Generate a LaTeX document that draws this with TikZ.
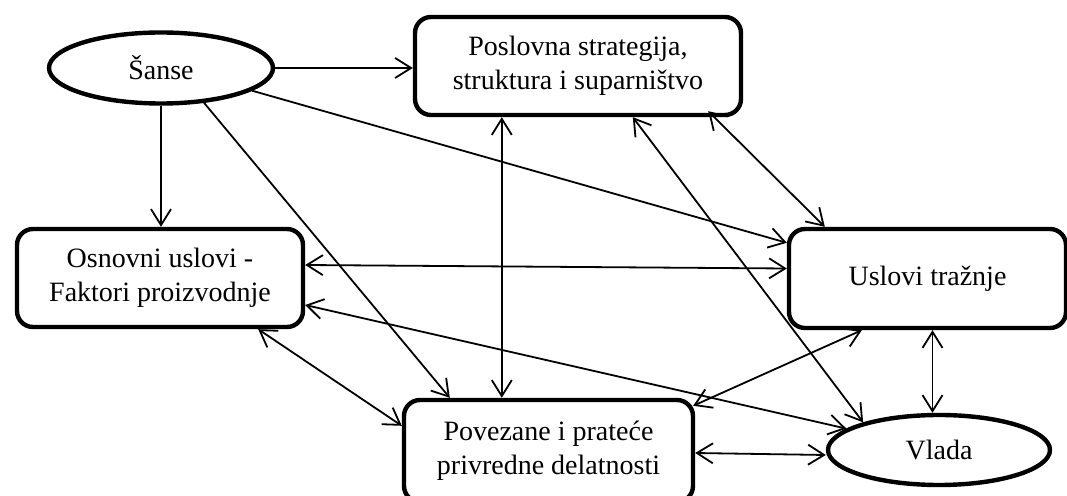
\documentclass[tikz,border=0pt]{standalone}
\usepackage{fontspec}
\setmainfont{Liberation Serif}
\usetikzlibrary{shapes.geometric,arrows.meta,calc}
\begin{document}
\begin{tikzpicture}[>={Straight Barb[length=8pt,width=10pt]},x=0.5pt,y=-0.5pt,
                    blok/.style={draw,line width=2.2pt,rounded corners=8pt,align=center,
                        inner sep=0pt,font=\fontsize{14}{17}\selectfont},
                    oval/.style={draw,ellipse,line width=2.2pt,inner sep=0pt,
                        font=\fontsize{14}{17}\selectfont},
                    veza/.style={line width=0.9pt}]
                    \useasboundingbox (0,0) rectangle (1067,496);
                    \node[oval,minimum width=112pt,minimum height=35.5pt] (sanse) at (161,68) {Šanse};
                    \node[blok,minimum width=163pt,minimum height=49pt] (strat) at (578,66)
                        {Poslovna strategija,\\ struktura i suparništvo};
                    \node[blok,minimum width=143pt,minimum height=49pt] (osnov) at (160,278)
                        {Osnovni uslovi -\\ Faktori proizvodnje};
                    \node[blok,minimum width=138.5pt,minimum height=49.5pt] (traz) at (927.5,278.5)
                        {Uslovi tražnje};
                    \node[blok,minimum width=144.5pt,minimum height=51pt] (poves) at (548.5,451)
                        {Povezane i prateće\\ privredne delatnosti};
                    \node[oval,minimum width=111pt,minimum height=35pt] (vlada) at (939,450) {Vlada};
                    \coordinate (sp) at ($(strat.south west)+(89,0)$);
                    \coordinate (tv) at ($(traz.south)+(5,0)$);
                    % od sanse
                    \draw[veza,->] (sanse.east) -- (sanse.east -| strat.west);
                    \draw[veza,->] (sanse.south) -- (sanse.south |- osnov.north);
                    \draw[veza,->] (sanse.-14) -- ($(traz.north west)+(0,16)$);
                    \draw[veza,->] (sanse.-39) -- ($(poves.north west)+(48,0)$);
                    % dvosmerne veze
                    \draw[veza,<->] (sp) -- (sp |- poves.north);
                    \draw[veza,<->] ($(strat.south west)+(220,0)$) -- (vlada.160);
                    \draw[veza,<->] ($(strat.south east)+(-35,-6)$) -- ($(traz.north west)+(38,0)$);
                    \draw[veza,<->] ($(osnov.east)+(0,-13)$) -- ($(traz.west)+(0,-10)$);
                    \draw[veza,<->] ($(osnov.east)+(0,27)$) -- (vlada.167);
                    \draw[veza,<->] ($(osnov.south east)+(-47,0)$) -- ($(poves.north west)+(0,28)$);
                    \draw[veza,<->] ($(traz.south west)+(75,0)$) -- ($(poves.north east)+(-2,8)$);
                    \draw[veza,<->] (tv) -- (tv |- vlada.north);
                    \draw[veza,<->] ($(poves.east)+(0,2)$) -- ($(vlada.west)+(0,5)$);
                \end{tikzpicture}
\end{document}
